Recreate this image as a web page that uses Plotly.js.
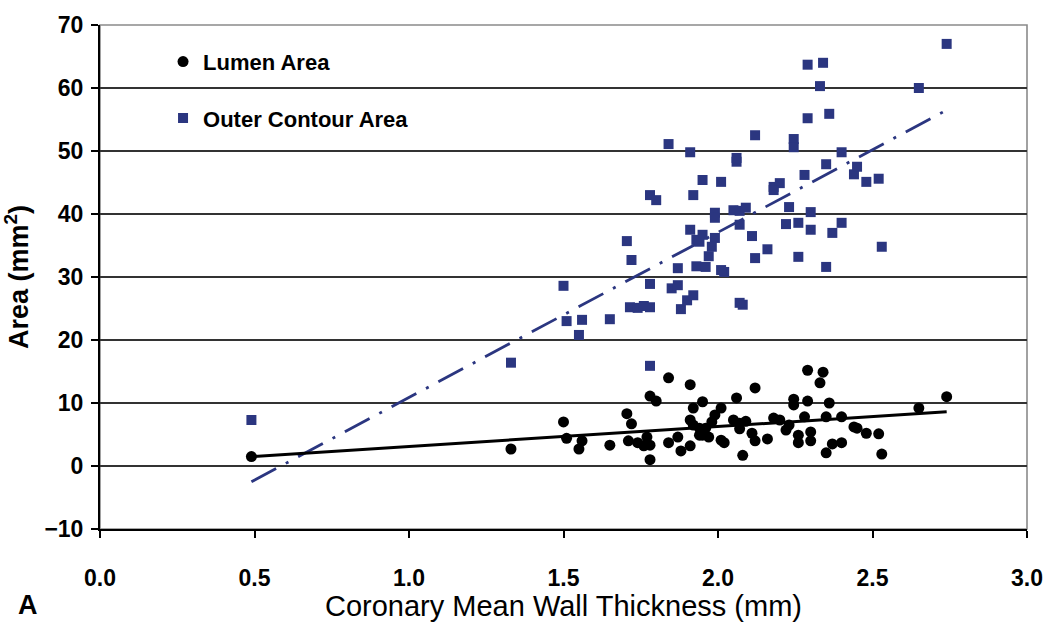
<!DOCTYPE html>
<html>
<head>
<meta charset="utf-8">
<script src="https://cdn.plot.ly/plotly-3.0.1.min.js"></script>
<style>
  html, body { margin: 0; padding: 0; background: #ffffff; }
  #chart { width: 1050px; height: 622px; }
</style>
</head>
<body>
<div id="chart"></div>
<script>
// ---- Data ----
const lumenX = [0.49,1.33,1.50,1.51,1.56,1.55,1.65,1.705,1.72,1.71,1.74,1.76,1.78,1.78,1.78,1.80,1.84,1.91,1.77,1.84,1.88,1.91,1.92,1.95,1.91,1.92,1.94,1.94,1.87,2.29,2.34,2.33,2.12,2.06,2.245,2.245,2.29,2.36,2.74,2.65,2.01,1.99,1.98,2.05,2.09,2.07,2.18,2.20,2.28,2.35,2.40,2.44,2.45,2.48,2.52,2.53,1.96,1.95,1.97,2.01,2.02,2.07,2.11,2.12,2.16,2.22,2.23,2.26,2.26,2.30,2.30,2.37,2.40,2.35,2.08];
const lumenY = [1.5,2.7,7.0,4.4,4.0,2.7,3.3,8.3,6.7,4.0,3.7,3.2,3.3,1.0,11.1,10.3,14.0,12.9,4.6,3.7,2.4,3.2,9.2,10.2,7.3,6.5,6.0,4.9,4.6,15.2,14.9,13.2,12.4,10.8,10.6,9.7,10.3,10.0,11.0,9.2,9.2,8.1,7.0,7.3,7.1,6.8,7.6,7.3,7.8,7.8,7.8,6.2,6.0,5.2,5.1,1.9,6.0,4.9,4.6,4.1,3.7,5.9,5.2,4.0,4.3,5.7,6.5,4.9,3.7,5.4,4.0,3.5,3.7,2.1,1.7];

const outerX = [0.49,1.33,1.50,1.51,1.56,1.55,1.65,1.705,1.72,1.715,1.74,1.76,1.78,1.78,1.78,1.78,1.80,1.84,1.85,1.87,1.87,1.88,1.90,1.92,1.93,1.91,1.93,1.91,1.92,1.95,2.01,1.95,1.94,1.99,1.98,1.99,1.99,1.97,1.96,2.02,2.01,2.05,2.07,2.09,2.07,2.06,2.06,2.08,2.07,2.11,2.12,2.16,2.12,2.18,2.20,2.18,2.23,2.22,2.245,2.245,2.26,2.26,2.28,2.29,2.29,2.30,2.30,2.33,2.34,2.36,2.35,2.35,2.37,2.40,2.40,2.44,2.45,2.48,2.52,2.53,2.65,2.74];
const outerY = [7.3,16.4,28.6,23.0,23.2,20.8,23.3,35.7,32.7,25.2,25.1,25.4,25.2,15.9,28.9,43.0,42.2,51.1,28.2,28.7,31.4,24.9,26.3,27.1,31.7,37.5,35.9,49.8,43.0,45.4,45.1,36.7,35.6,36.2,34.8,40.2,39.4,33.3,31.6,30.8,31.1,40.6,40.5,41.0,38.3,48.3,48.9,25.6,25.9,36.5,33.0,34.4,52.5,44.3,44.9,43.8,41.1,38.4,51.9,50.6,38.6,33.2,46.2,55.2,63.7,40.3,37.5,60.3,64.0,55.9,47.9,31.6,37.0,49.8,38.6,46.3,47.5,45.1,45.6,34.8,60.0,67.0];

// trend line end points
const trendX = [0.49, 2.74];
const lumenFitY = [1.5, 8.6];
const outerFitY = [-2.5, 56.5];

const xTicks = [0.0, 0.5, 1.0, 1.5, 2.0, 2.5, 3.0];
const yTicks = [-10, 0, 10, 20, 30, 40, 50, 60, 70];

const FONT = 'Liberation Sans, Arial, sans-serif';
const NAVY = '#2B3680';

const traces = [
  { x: trendX, y: outerFitY, mode: 'lines', showlegend: false, hoverinfo: 'skip',
    line: { color: NAVY, width: 2.8, dash: '28px,11px,3px,11px' } },
  { x: trendX, y: lumenFitY, mode: 'lines', showlegend: false, hoverinfo: 'skip',
    line: { color: '#000000', width: 3 } },
  { x: lumenX, y: lumenY, mode: 'markers', name: '<b>Lumen Area</b>', legend: 'legend',
    marker: { symbol: 'circle', size: 11, color: '#000000' } },
  { x: outerX, y: outerY, mode: 'markers', name: '<b>Outer Contour Area</b>', legend: 'legend2',
    marker: { symbol: 'square', size: 10, color: NAVY } }
];

const legendBase = {
  bgcolor: 'rgba(0,0,0,0)', borderwidth: 0, itemwidth: 30,
  font: { family: FONT, size: 22, color: '#000000' },
  xanchor: 'left', yanchor: 'middle', x: 0.068
};

const layout = {
  width: 1050, height: 622,
  margin: { l: 100, r: 23, t: 25, b: 93 },
  paper_bgcolor: '#ffffff', plot_bgcolor: '#ffffff',
  font: { family: FONT, color: '#000000' },
  xaxis: {
    range: [0, 3], tickvals: xTicks, tickformat: '.1f',
    showgrid: false, zeroline: false,
    showline: true, linecolor: '#000000', linewidth: 2,
    ticks: 'outside', ticklen: 7, tickwidth: 2, tickcolor: '#000000',
    ticklabelstandoff: 20,
    tickfont: { family: FONT, size: 23, color: '#000000', weight: 'bold' },
    title: { text: 'Coronary Mean Wall Thickness (mm)', standoff: 4,
             font: { family: FONT, size: 29, color: '#000000' } }
  },
  yaxis: {
    range: [-10, 70], tickvals: yTicks,
    showgrid: true, gridcolor: '#333333', gridwidth: 1.8, zeroline: false,
    showline: true, linecolor: '#000000', linewidth: 2,
    ticks: 'outside', ticklen: 7, tickwidth: 2, tickcolor: '#000000',
    ticklabelstandoff: 3,
    tickfont: { family: FONT, size: 23, color: '#000000', weight: 'bold' },
    title: { text: '<b>Area (mm<sup>2</sup>)</b>', standoff: 8,
             font: { family: FONT, size: 27, color: '#000000' } }
  },
  legend: Object.assign({}, legendBase, { y: 0.927 }),
  legend2: Object.assign({}, legendBase, { y: 0.815 }),
  shapes: [
    { type: 'rect', xref: 'paper', yref: 'paper', x0: 0, x1: 1, y0: 0, y1: 1,
      line: { color: '#8a8a8a', width: 1.6 }, layer: 'below' }
  ],
  annotations: [
    { text: '<b>A</b>', xref: 'paper', yref: 'paper', x: -0.078, y: -0.151,
      xanchor: 'center', yanchor: 'middle', showarrow: false,
      font: { family: FONT, size: 27, color: '#000000' } }
  ]
};

Plotly.newPlot('chart', traces, layout, { displayModeBar: false, staticPlot: true });
</script>
</body>
</html>
